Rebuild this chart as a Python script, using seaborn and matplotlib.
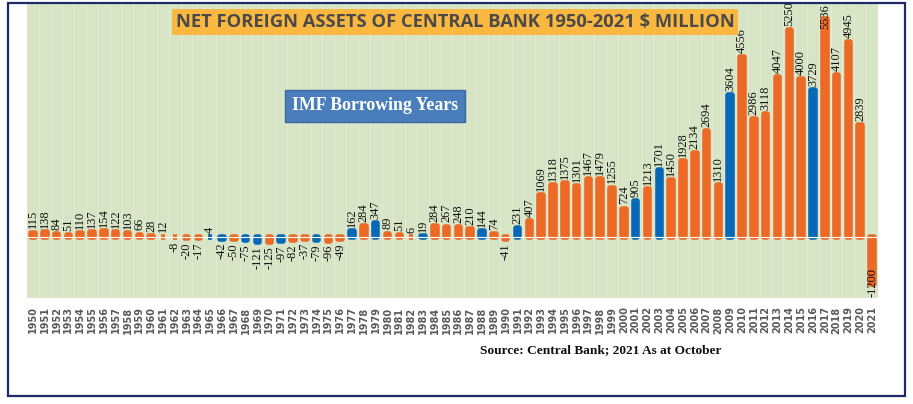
import matplotlib
matplotlib.use("Agg")
import matplotlib.pyplot as plt
import seaborn as sns
import pandas as pd
from matplotlib.patches import Rectangle

years = list(range(1950, 2022))
values = [115, 138, 84, 51, 110, 137, 154, 122, 103, 66, 28, 12, -8, -20, -17, 4,
          -42, -50, -75, -121, -125, -97, -82, -37, -79, -96, -49, 162, 284, 347,
          89, 51, 6, 19, 284, 267, 248, 210, 144, 74, -41, 231, 407, 1069, 1318,
          1375, 1301, 1467, 1479, 1255, 724, 905, 1213, 1701, 1450, 1928, 2134,
          2694, 1310, 3604, 4556, 2986, 3118, 4047, 5250, 4000, 3729, 5536, 4107,
          4945, 2839, -1200]
imf_years = [1965, 1966, 1968, 1969, 1971, 1974, 1977, 1979, 1983, 1988, 1991,
             2001, 2003, 2009, 2016]

title = "NET FOREIGN ASSETS OF CENTRAL BANK 1950-2021 $ MILLION"
imf_label = "IMF Borrowing Years"
source = "Source: Central Bank; 2021 As at October"

ORANGE = "#ec6a25"
BLUE = "#0768b8"
BG = "#d7e4c5"

df = pd.DataFrame({
    "year": [str(y) for y in years],
    "value": values,
    "group": ["IMF" if y in imf_years else "Other" for y in years],
})

sns.set_theme(style="white")
plt.rcParams["font.family"] = ["DejaVu Sans"]

fig = plt.figure(figsize=(9.13, 4.04), dpi=100)
ax = fig.add_axes([0.0296, 0.262, 0.932, 0.7306])
ax.set_facecolor(BG)

sns.barplot(data=df, x="year", y="value", hue="group",
            palette={"IMF": BLUE, "Other": ORANGE}, dodge=False, saturation=1,
            width=0.3, legend=False, ax=ax, zorder=2)

for p in ax.patches:
    p.set_edgecolor(p.get_facecolor())
    p.set_linewidth(4)
    p.set_joinstyle("round")

ymin, ymax = -1547, 5935
ax.set_ylim(ymin, ymax)
ax.set_xlim(-0.5, len(years) - 0.5)
ax.axhline(0, color="white", lw=0.8, zorder=3)

# faint vertical stripes
for i in range(len(years)):
    ax.axvline(i + 0.5, color="#e3edd8", lw=0.6, zorder=1)

FS = 8.9
for i, v in enumerate(values):
    lbl = str(v)
    if v >= 0:
        if v + 680 > ymax:
            ax.text(i, ymax - 30, lbl, rotation=90, ha="center", va="top",
                    fontsize=FS, family="Liberation Serif", color="#111111", zorder=4)
        else:
            ax.annotate(lbl, (i, v), xytext=(0, 3), textcoords="offset points",
                        rotation=90, ha="center", va="bottom", fontsize=FS,
                        family="Liberation Serif", color="#111111", zorder=4)
    else:
        if v - 680 < ymin:
            ax.text(i + 0.05, ymin + 40, lbl, rotation=90, ha="center", va="bottom",
                    fontsize=FS, family="Liberation Serif", color="#111111", zorder=4)
        else:
            ax.annotate(lbl, (i, v), xytext=(0, -3), textcoords="offset points",
                        rotation=90, ha="center", va="top", fontsize=FS,
                        family="Liberation Serif", color="#111111", zorder=4)

ax.set_yticks([])
ax.set_xlabel("")
ax.set_ylabel("")
ax.tick_params(axis="x", length=0, pad=6)
for t in ax.get_xticklabels():
    t.set_rotation(90)
    t.set_fontsize(7)
    t.set_fontweight("bold")
    t.set_color("#5a5a5a")
for s in ax.spines.values():
    s.set_visible(False)

# title box
fig.text(455 / 913, 1 - 22 / 404, title, ha="center", va="center",
         fontsize=13.2, fontweight="bold", family="Open Sans", color="#4a4a4a",
         bbox=dict(boxstyle="square,pad=0.2", fc="#fbb840", ec="none"))

# IMF box
fig.text(375 / 913, 1 - 106 / 404, imf_label, ha="center", va="center",
         fontsize=12.8, fontweight="bold", family="Liberation Serif", color="white",
         bbox=dict(boxstyle="square,pad=0.4", fc="#4a7ebb", ec="#3a67a0", lw=1))

# source
fig.text(601 / 913, 1 - 350 / 404, source, ha="center", va="center",
         fontsize=9.6, fontweight="bold", family="Liberation Serif", color="#111111")

# outer frame
fig.patches.append(Rectangle((8 / 913, 8 / 404), 897 / 913, 393 / 404,
                             transform=fig.transFigure, fill=False,
                             ec="#1c2a66", lw=1.6, zorder=10))

fig.savefig("out.png", dpi=100)
